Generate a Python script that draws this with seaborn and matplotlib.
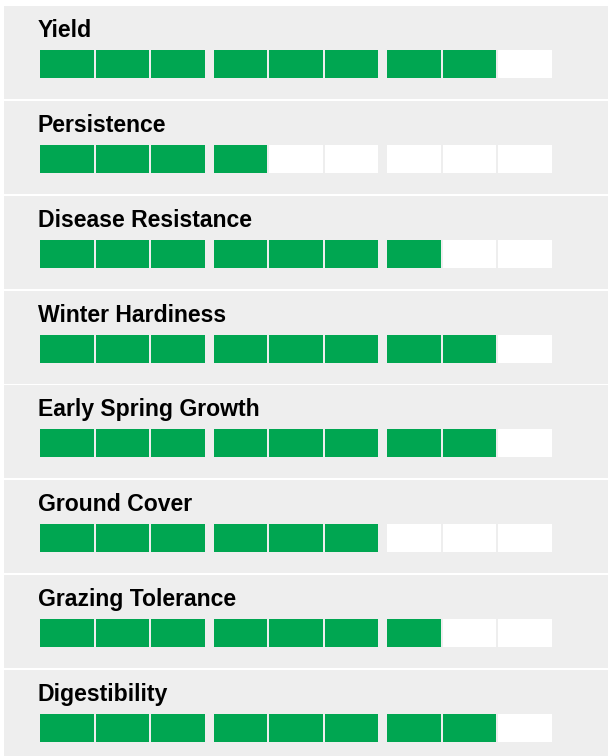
import matplotlib
matplotlib.use("Agg")
import matplotlib.pyplot as plt
import seaborn as sns
import pandas as pd

# Ratings (filled segments out of 9)
traits = ["Yield", "Persistence", "Disease Resistance", "Winter Hardiness",
          "Early Spring Growth", "Ground Cover", "Grazing Tolerance", "Digestibility"]
ratings = [8, 4, 7, 8, 8, 6, 7, 8]
n_segments = 9
group_size = 3

green = "#00a651"
panel_bg = "#eeeeee"

sns.set_style("white")
plt.rcParams['font.family'] = ['Liberation Sans', 'DejaVu Sans']

W, H = 608, 756
fig = plt.figure(figsize=(W / 100, H / 100), dpi=100)
fig.patch.set_facecolor("white")

# layout in pixels
left, top0, pitch_y, panel_h = 4, 6, 94.86, 93
seg_pitch, seg_w, group_gap, first_center = 55.5, 53.5, 7, 63
bar_top, bar_h = 44, 28

for k, (name, score) in enumerate(zip(traits, ratings)):
    top = top0 + k * pitch_y
    ax = fig.add_axes([left / W, 1 - (top + panel_h) / H, (W - left) / W, panel_h / H])
    ax.set_facecolor(panel_bg)

    idx = list(range(n_segments))
    df = pd.DataFrame({
        "pos": [first_center + i * seg_pitch + (i // group_size) * group_gap for i in idx],
        "val": [1] * n_segments,
        "state": ["filled" if i < score else "empty" for i in idx],
    })
    sns.barplot(data=df, x="pos", y="val", hue="state",
                palette={"filled": green, "empty": "white"},
                native_scale=True, dodge=False, width=seg_w / seg_pitch,
                saturation=1, linewidth=0, errorbar=None, legend=False, ax=ax)

    ax.set_xlim(0, W - left)
    below = panel_h - bar_top - bar_h
    ax.set_ylim(-below / bar_h, (panel_h - below) / bar_h)
    ax.set_xticks([])
    ax.set_yticks([])
    ax.set_xlabel("")
    ax.set_ylabel("")
    for s in ax.spines.values():
        s.set_visible(False)

    ax.text(33.5 / (W - left), (panel_h - 31) / panel_h, name, transform=ax.transAxes,
            fontsize=16.6, fontweight="bold", color="black", va="baseline", ha="left")

fig.savefig("out.png", dpi=100, facecolor="white")
